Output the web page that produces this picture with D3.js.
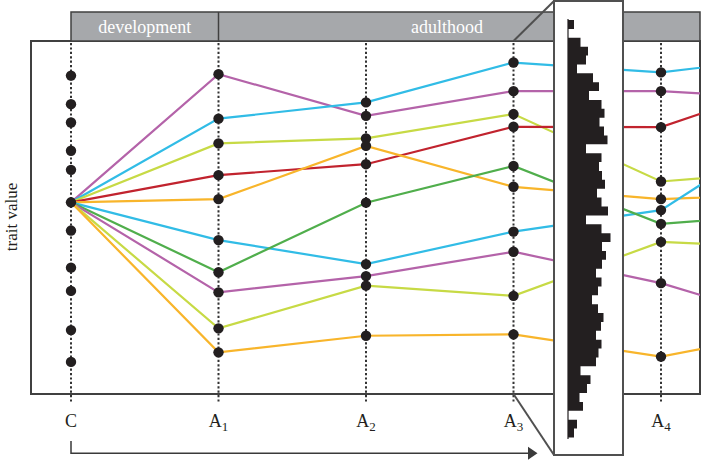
<!DOCTYPE html>
<html><head><meta charset="utf-8">
<script src="https://cdn.jsdelivr.net/npm/d3@7"></script>
<style>html,body{margin:0;padding:0;background:#fff;}svg{display:block;}</style>
</head><body>
<script>
// ---- data ----
const stages = ["C","A1","A2","A3","A4","A5"];          // A5 lies beyond the right edge (lines run off-chart)
const stageLabels = [["C",""],["A","1"],["A","2"],["A","3"],["A","4"]];
const phases = ["development","adulthood"];
const startValues = [90.2, 82.1, 76.9, 68.9, 63.5, 54.3, 46.3, 35.8, 29.2, 18.1, 9.1]; // dots at C
const origin = 54.3;
const seriesNames = ["purple1","cyan1","ygreen1","red","orange1","cyan2","green","purple2","ygreen2","orange2"];
const seriesColors = ["#b463a9","#31bce6","#c7da45","#c1232e","#f8b52b","#31bce6","#50ae4c","#b463a9","#c7da45","#f8b52b"];
// values at A1..A5
const purple1 = [90.6, 78.8, 85.8, 85.8, 83.4];
const cyan1   = [78.0, 82.6, 93.9, 91.1, 96.1];
const ygreen1 = [71.0, 72.4, 79.3, 60.2, 63.6];
const red     = [62.0, 65.1, 75.7, 75.6, 89.8];
const orange1 = [55.2, 70.3, 58.7, 55.2, 56.9];
const cyan2   = [43.6, 36.8, 46.0, 52.1, 78.9];
const green   = [34.5, 54.2, 64.6, 48.2, 51.4];
const purple2 = [28.8, 33.4, 40.3, 31.4, 18.8];
const ygreen2 = [18.6, 30.7, 27.8, 43.1, 41.1];
const orange2 = [11.8, 16.5, 16.9, 10.6, 18.5];
const seriesValues = [purple1,cyan1,ygreen1,red,orange1,cyan2,green,purple2,ygreen2,orange2];
// histogram of trait values at A3 (top bin first)
const histTop = 105.95, histBottom = -12.3;
const histCounts = [6,0,12.5,20,18,9,25,31,21,33.5,36.5,31.5,36,39.5,18,33.5,31,34,37,29,33.5,40,18,33.5,42.5,34,38,34,28,33.5,30,24,30,35.5,33,28,33.5,30.5,28,12.5,22.5,19,11.5,15,0,9,6];

// ---- layout ----
const W = 702, H = 460;
const box = {x0:31, x1:700, y0:41, y1:394};
const svg = d3.select("body").append("svg").attr("width",W).attr("height",H)
  .style("font-family","'Liberation Serif','Times New Roman',serif");

const x = d3.scalePoint().domain(stages).range([71, 808.5]);
const y = d3.scaleLinear().domain([0,100]).range([394, 41]);

const dark = "#231f20", frame = "#404040";

// main frame
svg.append("rect").attr("x",box.x0).attr("y",box.y0).attr("width",box.x1-box.x0).attr("height",box.y1-box.y0)
  .attr("fill","#fff").attr("stroke",frame).attr("stroke-width",2);

svg.append("defs").append("clipPath").attr("id","clip").append("rect")
  .attr("x",box.x0).attr("y",box.y0).attr("width",box.x1-box.x0).attr("height",box.y1-box.y0);

// dotted verticals
const visStages = stages.slice(0,5);
svg.append("g").selectAll("line").data(visStages).join("line")
  .attr("x1",d=>x(d)).attr("x2",d=>x(d)).attr("y1",box.y0+2).attr("y2",402)
  .attr("stroke","#333").attr("stroke-width",2).attr("stroke-dasharray","2.2,2.2");

// series lines
const line = d3.line().x(d=>x(d[0])).y(d=>y(d[1]));
const gl = svg.append("g").attr("clip-path","url(#clip)");
seriesValues.forEach((vals,i)=>{
  const pts = [["C",origin]].concat(vals.map((v,j)=>[stages[j+1],v]));
  gl.append("path").attr("d",line(pts)).attr("fill","none")
    .attr("stroke",seriesColors[i]).attr("stroke-width",2.2);
});

// dots
const gd = svg.append("g").attr("clip-path","url(#clip)");
gd.selectAll("circle.c").data(startValues).join("circle").attr("class","c")
  .attr("cx",x("C")).attr("cy",d=>y(d)).attr("r",5.2).attr("fill",dark);
seriesValues.forEach(vals=>{
  vals.slice(0,4).forEach((v,j)=>{
    gd.append("circle").attr("cx",x(stages[j+1])).attr("cy",y(v)).attr("r",5.2).attr("fill",dark);
  });
});

// header bar
const hdr = {y0:12, y1:41};
svg.append("rect").attr("x",x("C")).attr("y",hdr.y0).attr("width",box.x1-x("C")).attr("height",hdr.y1-hdr.y0)
  .attr("fill","#a6a8ab").attr("stroke",frame).attr("stroke-width",1.5);
svg.append("line").attr("x1",x("A1")).attr("x2",x("A1")).attr("y1",hdr.y0).attr("y2",hdr.y1)
  .attr("stroke",frame).attr("stroke-width",1.5);
svg.append("text").attr("x",(x("C")+x("A1"))/2).attr("y",32.5).attr("text-anchor","middle")
  .attr("fill","#fff").attr("font-size",18).text(phases[0]);
svg.append("text").attr("x",447).attr("y",32.5).attr("text-anchor","middle")
  .attr("fill","#fff").attr("font-size",18).text(phases[1]);

// zoom (histogram) box and connectors
const hb = {x0:554, x1:623, y0:1, y1:455};
svg.append("line").attr("x1",x("A3")).attr("y1",box.y0).attr("x2",hb.x0).attr("y2",hb.y0)
  .attr("stroke","#505050").attr("stroke-width",2);
svg.append("line").attr("x1",x("A3")).attr("y1",box.y1).attr("x2",hb.x0).attr("y2",hb.y1)
  .attr("stroke","#505050").attr("stroke-width",2);
svg.append("rect").attr("x",hb.x0).attr("y",hb.y0).attr("width",hb.x1-hb.x0).attr("height",hb.y1-hb.y0)
  .attr("fill","#fff").attr("stroke","#505050").attr("stroke-width",2);

const hy = d3.scaleLinear().domain([histTop, histBottom]).range([20, 437.4]);
const binW = (histTop-histBottom)/histCounts.length;
const hx = d3.scaleLinear().domain([0,45]).range([568, 613]);
// one outline path for the step histogram (no seams between bins)
let p = d3.path();
p.moveTo(hx(0), hy(histTop));
histCounts.forEach((c,i)=>{
  const yA = hy(histTop - i*binW), yB = hy(histTop-(i+1)*binW);
  p.lineTo(hx(c), yA); p.lineTo(hx(c), yB);
});
p.lineTo(hx(0), hy(histBottom)); p.closePath();
svg.append("path").attr("d",p.toString()).attr("fill",dark);
svg.append("line").attr("x1",hx(0)).attr("x2",hx(0)).attr("y1",19).attr("y2",439)
  .attr("stroke",dark).attr("stroke-width",1.2);

// stage labels
const gt = svg.append("g");
visStages.forEach((s,i)=>{
  const t = gt.append("text").attr("x",x(s)).attr("y",427).attr("text-anchor","middle")
    .attr("font-size",18).attr("fill",dark);
  t.append("tspan").text(stageLabels[i][0]);
  if (stageLabels[i][1]) t.append("tspan").attr("font-size",13).attr("dy",4).text(stageLabels[i][1]);
});

// y-axis title
svg.append("text").attr("transform","translate(17,217) rotate(-90)").attr("text-anchor","middle")
  .attr("font-size",17).attr("fill",dark).text("trait value");

// time arrow
svg.append("path").attr("d",`M${x("C")},441 V453.3 H529`).attr("fill","none")
  .attr("stroke","#3a3a3a").attr("stroke-width",1.5);
svg.append("path").attr("d","M528,446.8 L537.5,453.3 L528,459.8 Z").attr("fill","#3a3a3a");
</script>
</body></html>
